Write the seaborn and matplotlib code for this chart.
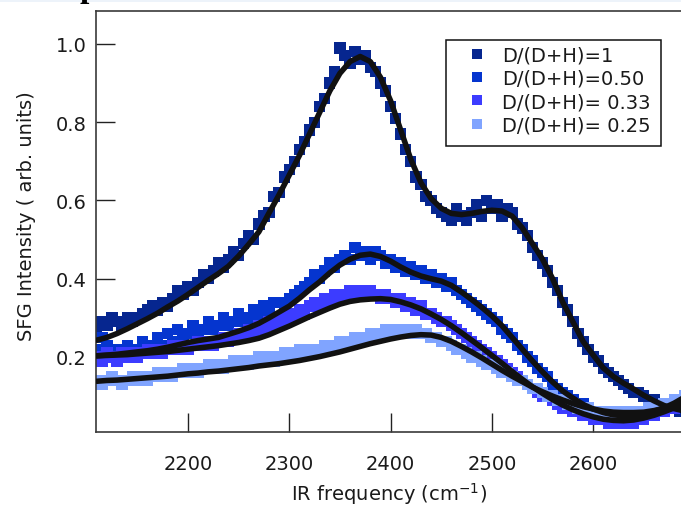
import numpy as np
import pandas as pd
import matplotlib
matplotlib.use("Agg")
import matplotlib.pyplot as plt
from matplotlib.lines import Line2D
from matplotlib.patches import Rectangle
import seaborn as sns

labels = ["D/(D+H)=1", "D/(D+H)=0.50", "D/(D+H)= 0.33", "D/(D+H)= 0.25"]
colors = ["#06268f", "#0535cf", "#3c3cff", "#80a4ff"]

freq_data = np.arange(2110, 2691, 5)
freq_fit = np.arange(2110, 2691, 10)

data_1 = [0.27, 0.29, 0.28, 0.30, 0.29, 0.28, 0.30, 0.29, 0.30, 0.31,
          0.32, 0.33, 0.32, 0.34, 0.33, 0.35, 0.37, 0.36, 0.38, 0.37,
          0.39, 0.41, 0.40, 0.42, 0.44, 0.43, 0.45, 0.47, 0.46, 0.49,
          0.51, 0.50, 0.54, 0.56, 0.57, 0.61, 0.62, 0.66, 0.68, 0.70,
          0.73, 0.75, 0.78, 0.80, 0.84, 0.86, 0.90, 0.93, 0.99, 0.97,
          0.95, 0.98, 0.96, 0.97, 0.94, 0.93, 0.90, 0.88, 0.84, 0.81,
          0.77, 0.73, 0.70, 0.66, 0.64, 0.61, 0.60, 0.58, 0.57, 0.56,
          0.55, 0.58, 0.56, 0.55, 0.57, 0.59, 0.56, 0.60, 0.58, 0.59,
          0.56, 0.58, 0.57, 0.54, 0.53, 0.51, 0.48, 0.46, 0.44, 0.42,
          0.39, 0.37, 0.34, 0.32, 0.29, 0.26, 0.24, 0.22, 0.20, 0.19,
          0.17, 0.16, 0.15, 0.14, 0.13, 0.12, 0.11, 0.11, 0.10, 0.09,
          0.09, 0.08, 0.08, 0.07, 0.07, 0.06, 0.06]
data_2 = [0.22, 0.25, 0.23, 0.21, 0.22, 0.20, 0.23, 0.21, 0.22, 0.24,
          0.22, 0.23, 0.25, 0.23, 0.26, 0.24, 0.27, 0.25, 0.26, 0.28,
          0.26, 0.27, 0.29, 0.27, 0.28, 0.30, 0.28, 0.29, 0.31, 0.29,
          0.30, 0.32, 0.31, 0.33, 0.32, 0.34, 0.34, 0.33, 0.35, 0.36,
          0.37, 0.38, 0.39, 0.41, 0.40, 0.42, 0.44, 0.43, 0.45, 0.46,
          0.45, 0.48, 0.46, 0.47, 0.45, 0.47, 0.46, 0.44, 0.45, 0.43,
          0.44, 0.42, 0.43, 0.41, 0.42, 0.40, 0.41, 0.39, 0.40, 0.38,
          0.39, 0.37, 0.36, 0.35, 0.34, 0.33, 0.32, 0.31, 0.30, 0.29,
          0.27, 0.26, 0.25, 0.23, 0.22, 0.20, 0.19, 0.17, 0.16, 0.15,
          0.13, 0.12, 0.11, 0.10, 0.09, 0.08, 0.08, 0.07, 0.06, 0.06,
          0.05, 0.05, 0.05, 0.04, 0.05, 0.04, 0.05, 0.05, 0.05, 0.06,
          0.06, 0.07, 0.07, 0.08, 0.08, 0.09, 0.10]
data_3 = [0.20, 0.19, 0.21, 0.20, 0.19, 0.21, 0.20, 0.21, 0.20, 0.21,
          0.22, 0.21, 0.22, 0.21, 0.22, 0.23, 0.22, 0.23, 0.22, 0.23,
          0.24, 0.23, 0.24, 0.23, 0.24, 0.25, 0.24, 0.25, 0.26, 0.25,
          0.27, 0.26, 0.28, 0.27, 0.29, 0.28, 0.30, 0.29, 0.31, 0.30,
          0.32, 0.31, 0.33, 0.34, 0.33, 0.35, 0.34, 0.36, 0.35, 0.36,
          0.37, 0.36, 0.37, 0.36, 0.37, 0.36, 0.35, 0.36, 0.35, 0.34,
          0.35, 0.33, 0.34, 0.32, 0.33, 0.31, 0.31, 0.30, 0.29, 0.29,
          0.28, 0.27, 0.26, 0.25, 0.24, 0.23, 0.22, 0.21, 0.20, 0.19,
          0.18, 0.17, 0.16, 0.15, 0.14, 0.13, 0.12, 0.11, 0.10, 0.10,
          0.09, 0.08, 0.07, 0.07, 0.06, 0.06, 0.05, 0.05, 0.04, 0.04,
          0.04, 0.03, 0.03, 0.03, 0.03, 0.04, 0.03, 0.04, 0.04, 0.05,
          0.05, 0.06, 0.06, 0.07, 0.07, 0.08, 0.09]
data_4 = [0.14, 0.13, 0.14, 0.15, 0.14, 0.13, 0.14, 0.15, 0.14, 0.15,
          0.14, 0.15, 0.16, 0.15, 0.16, 0.15, 0.16, 0.17, 0.16, 0.17,
          0.16, 0.17, 0.18, 0.17, 0.18, 0.17, 0.18, 0.19, 0.18, 0.19,
          0.18, 0.19, 0.20, 0.19, 0.20, 0.19, 0.20, 0.21, 0.20, 0.21,
          0.22, 0.21, 0.22, 0.21, 0.22, 0.23, 0.22, 0.23, 0.24, 0.23,
          0.24, 0.25, 0.24, 0.25, 0.26, 0.25, 0.26, 0.27, 0.26, 0.27,
          0.26, 0.27, 0.26, 0.27, 0.26, 0.26, 0.25, 0.25, 0.24, 0.24,
          0.23, 0.22, 0.22, 0.21, 0.20, 0.20, 0.19, 0.18, 0.18, 0.17,
          0.16, 0.16, 0.15, 0.14, 0.14, 0.13, 0.12, 0.12, 0.11, 0.10,
          0.10, 0.09, 0.09, 0.08, 0.08, 0.07, 0.07, 0.07, 0.06, 0.06,
          0.06, 0.06, 0.05, 0.06, 0.05, 0.06, 0.06, 0.06, 0.06, 0.07,
          0.07, 0.07, 0.08, 0.08, 0.09, 0.09, 0.10]

fit_1 = [0.243, 0.250, 0.260, 0.272, 0.285, 0.298, 0.312, 0.328, 0.343, 0.360,
         0.378, 0.396, 0.413, 0.432, 0.458, 0.488, 0.520, 0.568, 0.615, 0.665,
         0.715, 0.770, 0.825, 0.880, 0.925, 0.955, 0.968, 0.955, 0.915, 0.855,
         0.780, 0.705, 0.645, 0.605, 0.580, 0.567, 0.564, 0.567, 0.572, 0.575,
         0.573, 0.560, 0.530, 0.490, 0.450, 0.400, 0.340, 0.290, 0.240, 0.205,
         0.172, 0.150, 0.133, 0.118, 0.102, 0.088, 0.076, 0.068, 0.062]
fit_2 = [0.203, 0.205, 0.207, 0.210, 0.213, 0.216, 0.220, 0.225, 0.231, 0.237,
         0.242, 0.246, 0.250, 0.258, 0.266, 0.275, 0.286, 0.300, 0.315, 0.330,
         0.350, 0.372, 0.392, 0.415, 0.435, 0.450, 0.460, 0.463, 0.457, 0.445,
         0.430, 0.417, 0.407, 0.400, 0.394, 0.383, 0.366, 0.347, 0.327, 0.305,
         0.280, 0.250, 0.220, 0.190, 0.162, 0.136, 0.113, 0.095, 0.079, 0.067,
         0.058, 0.052, 0.050, 0.051, 0.054, 0.061, 0.070, 0.082, 0.097]
fit_3 = [0.203, 0.204, 0.205, 0.206, 0.208, 0.210, 0.212, 0.214, 0.217, 0.220,
         0.223, 0.226, 0.229, 0.233, 0.237, 0.242, 0.248, 0.257, 0.268, 0.279,
         0.291, 0.303, 0.314, 0.325, 0.335, 0.342, 0.346, 0.348, 0.349, 0.347,
         0.341, 0.333, 0.323, 0.310, 0.296, 0.280, 0.262, 0.243, 0.224, 0.204,
         0.184, 0.163, 0.143, 0.124, 0.107, 0.091, 0.077, 0.065, 0.055, 0.047,
         0.041, 0.038, 0.037, 0.039, 0.044, 0.051, 0.060, 0.070, 0.082]
fit_4 = [0.138, 0.140, 0.141, 0.143, 0.145, 0.147, 0.149, 0.151, 0.154, 0.157,
         0.159, 0.162, 0.164, 0.167, 0.170, 0.173, 0.177, 0.180, 0.183, 0.187,
         0.191, 0.196, 0.201, 0.207, 0.213, 0.220, 0.227, 0.234, 0.240, 0.246,
         0.251, 0.255, 0.257, 0.256, 0.250, 0.240, 0.227, 0.213, 0.198, 0.182,
         0.166, 0.151, 0.137, 0.123, 0.111, 0.100, 0.090, 0.081, 0.073, 0.067,
         0.062, 0.059, 0.058, 0.058, 0.059, 0.063, 0.069, 0.077, 0.087]

data_all = [data_1, data_2, data_3, data_4]
fit_all = [fit_1, fit_2, fit_3, fit_4]

df_data = pd.concat([pd.DataFrame({"freq": freq_data, "sfg": d, "series": lab})
                     for d, lab in zip(data_all, labels)], ignore_index=True)
df_fit = pd.concat([pd.DataFrame({"freq": freq_fit, "sfg": f, "series": lab})
                    for f, lab in zip(fit_all, labels)], ignore_index=True)

sns.set_theme(style="white")
plt.rcParams["font.family"] = ["DejaVu Sans"]

fig = plt.figure(figsize=(6.81, 5.10), dpi=100)
ax = fig.add_axes([96 / 681, 77 / 510, 587 / 681, 421 / 510])

sns.scatterplot(data=df_data, x="freq", y="sfg", hue="series", hue_order=labels,
                palette=colors, marker="s", s=66, linewidth=0, legend=False,
                ax=ax, zorder=2)
sns.lineplot(data=df_fit, x="freq", y="sfg", units="series", estimator=None,
             color="#111111", linewidth=4.0, legend=False, ax=ax, zorder=3)

ax.set_xlim(2109.2, 2688.7)
ax.set_ylim(0.0083, 1.0843)
ax.set_xticks([2200, 2300, 2400, 2500, 2600])
ax.set_yticks([0.2, 0.4, 0.6, 0.8, 1.0])
ax.set_yticklabels(["0.2", "0.4", "0.6", "0.8", "1.0"])

for side in ["left", "bottom", "top", "right"]:
    ax.spines[side].set_color("#3a3a3a")
    ax.spines[side].set_linewidth(1.2)

ax.tick_params(axis="both", which="major", direction="in", length=14, width=1.0,
               color="#222222", labelsize=14, labelcolor="#1a1a1a",
               bottom=True, left=True, top=False, right=False)
ax.tick_params(axis="y", pad=6.5)
ax.tick_params(axis="x", pad=16)

ax.set_xlabel("IR frequency (cm$^{-1}$)", fontsize=14, color="#1a1a1a")
ax.set_ylabel("SFG Intensity ( arb. units)", fontsize=14, color="#1a1a1a")
ax.xaxis.set_label_coords(0.5, -0.114)
ax.yaxis.set_label_coords(-0.102, 0.514)

ax.add_patch(Rectangle((0.5963, 0.6793), 0.3663, 0.2518, transform=ax.transAxes,
                       facecolor="white", edgecolor="#111111", linewidth=1.1,
                       zorder=4))
handles = [Line2D([], [], marker="s", linestyle="none", markersize=6.5,
                  markerfacecolor=c, markeredgewidth=0) for c in colors]
leg = ax.legend(handles, labels, loc="upper left", bbox_to_anchor=(0.6145, 0.9176),
                borderaxespad=0, borderpad=0, frameon=False, handlelength=2.06,
                handletextpad=0.26, labelspacing=0.22, fontsize=14)
for t in leg.get_texts():
    t.set_color("#1a1a1a")
leg.set_zorder(5)

fig.patches.append(Rectangle((0, 1 - 2.5 / 510), 1, 2.5 / 510, transform=fig.transFigure,
                             facecolor="#edf3fa", edgecolor="none", zorder=0))
fig.text(80 / 681, 1 + 3.2 / 510, "p", fontfamily=["Liberation Serif"],
         fontweight="bold", fontsize=24, va="baseline", ha="left", color="black")

fig.savefig("out.png", dpi=100)
